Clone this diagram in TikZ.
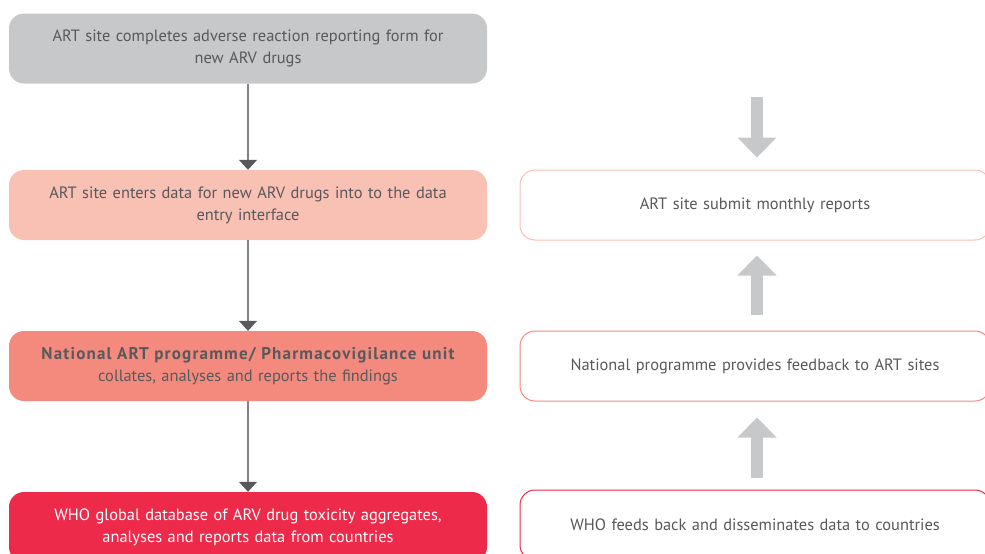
\documentclass[tikz,border=0pt]{standalone}
\usepackage{fontspec}
\setmainfont{PT Sans}
\usetikzlibrary{arrows.meta}
\definecolor{txtgray}{HTML}{58595B}
\definecolor{linegray}{HTML}{808285}
\definecolor{blockgray}{HTML}{C7C8CA}
\definecolor{stepone}{HTML}{C7C8CA}
\definecolor{steptwo}{HTML}{F9C0B4}
\definecolor{stepthree}{HTML}{F48A7E}
\definecolor{stepfour}{HTML}{EE2A4B}
\tikzset{
  stepbox/.style={rounded corners=15pt, minimum width=478pt, minimum height=70pt,
    text width=460pt, align=center, inner sep=0pt, text=txtgray,
    font=\fontsize{16.4}{22}\selectfont},
  fbbox/.style={stepbox, minimum width=470pt, fill=white, line width=1pt},
  flowarrow/.style={draw=linegray, line width=1.3pt,
    -{Triangle[width=18pt,length=10pt,color=txtgray]}},
  backarrow/.style={draw=blockgray, line width=12pt,
    -{Triangle[width=38pt,length=20pt]}}
}
\begin{document}
\begin{tikzpicture}[x=1pt,y=-1pt]
  \useasboundingbox (0,0) rectangle (985,554);
  \clip (0,0) rectangle (985,554);
  % reporting chain
  \node[stepbox, fill=stepone] (form) at (248,48.5)
    {ART site completes adverse reaction reporting form for\\ new ARV drugs};
  \node[stepbox, fill=steptwo] (entry) at (248,205)
    {ART site enters data for new ARV drugs into to the data\\ entry interface};
  \node[stepbox, fill=stepthree] (natl) at (248,366)
    {{\fontsize{17}{22}\selectfont\addfontfeature{LetterSpace=7}\bfseries National ART programme/ Pharmacovigilance unit}\\ collates, analyses and reports the findings};
  \node[stepbox, fill=stepfour, text=white] (who) at (248,527)
    {WHO global database of ARV drug toxicity aggregates,\\ analyses and reports data from countries};
  \draw[flowarrow] (form) -- (entry);
  \draw[flowarrow] (entry) -- (natl);
  \draw[flowarrow] (natl) -- (who);
  % feedback chain
  \node[fbbox, draw=steptwo] (submit) at (755,205) {ART site submit monthly reports};
  \node[fbbox, draw=stepthree] (natlfb) at (755,366) {National programme provides feedback to ART sites};
  \node[fbbox, draw=stepfour] (whofb) at (755,525) {WHO feeds back and disseminates data to countries};
  \coordinate (feedin) at (757,97);
  \draw[backarrow] (feedin) -- ([xshift=2pt,yshift=12pt]submit.north);
  \draw[backarrow] ([xshift=2pt,yshift=16pt]natlfb.north) -- ([xshift=2pt,yshift=-15pt]submit.south);
  \draw[backarrow] ([xshift=2pt,yshift=12pt]whofb.north) -- ([xshift=2pt,yshift=-16pt]natlfb.south);
\end{tikzpicture}
\end{document}
